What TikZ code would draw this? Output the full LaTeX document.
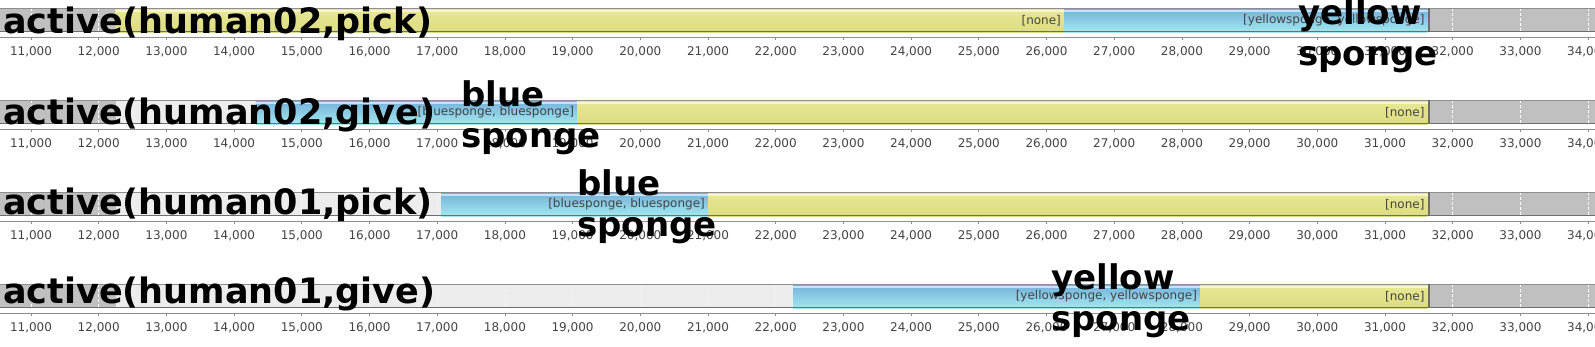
\documentclass[tikz,border=0pt]{standalone}
\usepackage{fontspec}
\setmainfont{DejaVu Sans}
\usetikzlibrary{positioning}
\definecolor{outgray}{HTML}{C0C0C0}
\definecolor{idlegray}{HTML}{F2F2F2}
\definecolor{bluetop}{HTML}{74B0DA}
\definecolor{bluebot}{HTML}{A2E8F0}
\definecolor{yeltop}{HTML}{E8E898}
\definecolor{yelbot}{HTML}{DCDC80}
\definecolor{framegray}{HTML}{8E8E8E}
\definecolor{framedark}{HTML}{6E6E6E}
\definecolor{labelgray}{HTML}{444444}
% time (in thousands) to x position
\newcommand{\tpos}[1]{31+67.7*(#1-11)}
% one valued segment: row, from, to, style, text, name
\newcommand{\seg}[6]{%
  \fill[#4] ({\tpos{#2}},{8+92*#1}) rectangle ({\tpos{#3}},{32+92*#1});
  \draw[shine] ({\tpos{#2}},{11+92*#1}) -- ({\tpos{#3}},{11+92*#1});
  \node[valtext] (#6) at ({\tpos{#3}-3},{20.5+92*#1}) {#5};}

\begin{document}
\begin{tikzpicture}[
  x=1pt, y=-1pt,
  bluebar/.style={top color=bluetop, bottom color=bluebot},
  yellowbar/.style={top color=yeltop, bottom color=yelbot},
  shine/.style={white, opacity=0.6, line width=1.2pt},
  gridline/.style={white, dash pattern=on 3pt off 2pt, line width=0.8pt},
  axisline/.style={framegray, line width=1pt},
  tickmark/.style={framegray, line width=0.8pt},
  ticklabel/.style={font=\fontsize{12}{14}\selectfont, text=labelgray, inner sep=0pt, anchor=base},
  valtext/.style={font=\fontsize{12}{14}\selectfont, text=labelgray, inner sep=0pt, anchor=east},
  rowlabel/.style={font=\fontsize{35}{41}\selectfont\bfseries, inner sep=0pt, anchor=base west},
  objlabel/.style={font=\fontsize{34}{41}\selectfont\bfseries, inner sep=0pt, align=left, anchor=north west}
]
  \useasboundingbox (0,0) rectangle (1595,346);
  \clip (0,0) rectangle (1595,346);
  % background of the four timelines
  \foreach \k in {0,...,3}{
    \pgfmathsetmacro{\bartop}{8+92*\k}
    \pgfmathsetmacro{\barbot}{32+92*\k}
    \pgfmathsetmacro{\axisy}{37+92*\k}
    \fill[outgray] (0,\bartop) rectangle (1595,\barbot);
    \foreach \t in {11,...,34}{
      \draw[gridline] ({\tpos{\t}},\bartop) -- ({\tpos{\t}},\barbot);
      \draw[tickmark] ({\tpos{\t}},\axisy) -- ++(0,3);
      \node[ticklabel] (t\k-\t) at ({\tpos{\t}},{55+92*\k}) {\t,000};
    }
    \fill[idlegray, opacity=0.9] ({\tpos{12.25}},\bartop) rectangle ({\tpos{31.63}},\barbot);
    \draw[axisline] (0,\axisy) -- (1595,\axisy);
  }
  % valued segments
  \seg{0}{12.25}{26.26}{yellowbar}{[none]}{v1a}
  \seg{0}{26.26}{31.63}{bluebar}{[yellowsponge, yellowsponge]}{v1b}
  \seg{1}{14.32}{19.07}{bluebar}{[bluesponge, bluesponge]}{v2a}
  \seg{1}{19.07}{31.63}{yellowbar}{[none]}{v2b}
  \seg{2}{17.06}{21.0}{bluebar}{[bluesponge, bluesponge]}{v3a}
  \seg{2}{21.0}{31.63}{yellowbar}{[none]}{v3b}
  \seg{3}{22.26}{28.27}{bluebar}{[yellowsponge, yellowsponge]}{v4a}
  \seg{3}{28.27}{31.63}{yellowbar}{[none]}{v4b}
  % frames
  \foreach \k in {0,...,3}{
    \draw[framegray, line width=1pt] (0,{8.5+92*\k}) -- (1595,{8.5+92*\k});
    \draw[framedark, line width=1.5pt] (0,{31.5+92*\k}) -- (1595,{31.5+92*\k});
    \fill[framedark] ({\tpos{31.63}},{8+92*\k}) rectangle ({\tpos{31.63}+2.5},{32+92*\k});
  }
  % labels
  \node[rowlabel] (act1) at (3,33) {active(human02,pick)};
  \node[rowlabel] (act2) at (3,124) {active(human02,give)};
  \node[rowlabel] (act3) at (3,214) {active(human01,pick)};
  \node[rowlabel] (act4) at (3,303) {active(human01,give)};
  \node[objlabel] (obj1) at (1298,-2) {yellow\\sponge};
  \node[objlabel] (obj2) at (461,80) {blue\\sponge};
  \node[objlabel] (obj3) at (577,169) {blue\\sponge};
  \node[objlabel] (obj4) at (1051,263) {yellow\\sponge};
\end{tikzpicture}
\end{document}
